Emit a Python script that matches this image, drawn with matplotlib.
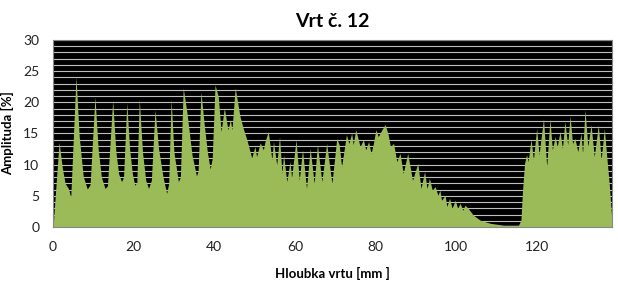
import numpy as np
import matplotlib.pyplot as plt

plt.rcParams['font.family'] = ['Lato', 'DejaVu Sans']

# depth [mm] and amplitude [%]
depth = [0.0, 1.5, 2.3, 3.0, 3.8, 4.4, 5.7, 6.5, 7.5, 8.5, 9.2, 10.4, 11.2, 12.0,
         12.9, 13.5, 14.8, 15.6, 16.3, 17.0, 17.5, 18.3, 19.0, 19.7, 20.3, 20.8,
         21.4, 22.2, 23.0, 23.7, 24.4, 25.3, 26.2, 27.3, 28.2, 28.7, 29.3, 30.0,
         31.1, 31.6, 32.3, 33.2, 34.5, 35.6, 36.0, 36.7, 37.5, 38.3, 39.0, 39.5,
         40.2, 41.0, 41.7, 42.5, 43.4, 44.0, 44.4, 45.2, 46.4, 47.2, 48.1, 49.3,
         50.1, 50.5, 51.4, 52.2, 52.6, 53.4, 54.3, 54.7, 55.5, 56.2, 56.8, 57.2,
         58.0, 58.8, 59.2, 60.3, 61.1, 61.9, 62.9, 63.8, 64.8, 65.6, 66.7, 67.9,
         69.2, 70.4, 71.0, 71.6, 72.8, 73.4, 74.1, 74.5, 75.1, 76.2, 77.0, 77.6,
         78.3, 78.9, 79.5, 80.1, 80.7, 81.6, 82.4, 83.1, 83.7, 84.5, 85.3, 86.1,
         86.9, 88.0, 89.2, 90.5, 91.3, 92.2, 92.8, 93.4, 94.1, 94.8, 95.5, 96.0,
         96.4, 97.3, 97.7, 98.4, 99.0, 99.8, 100.4, 101.0, 101.7, 102.2, 103.0,
         104.3, 106.0, 108.5, 111.8, 115.5, 116.1, 116.5, 117.0, 117.5, 117.9,
         118.6, 119.2, 120.0, 120.6, 121.7, 122.5, 123.3, 123.9, 124.6, 125.1,
         125.8, 126.4, 127.0, 127.7, 128.3, 128.9, 129.5, 130.2, 131.0, 131.4,
         132.0, 132.7, 133.5, 134.3, 135.3, 136.0, 136.8, 137.4, 138.0, 138.6,
         138.7]
amplitude = [0.0, 13.6, 9.5, 7.0, 6.2, 4.8, 24.1, 14.5, 8.1, 6.1, 6.8, 20.9, 12.5, 8.0,
             6.2, 6.6, 20.3, 12.0, 8.5, 7.3, 8.0, 19.9, 12.5, 8.5, 6.7, 7.2,
             20.5, 12.0, 7.5, 6.2, 7.5, 18.8, 12.5, 8.0, 5.4, 7.0, 20.5, 12.0,
             7.3, 8.0, 22.3, 18.5, 11.5, 8.2, 9.0, 21.7, 16.5, 12.0, 9.3, 11.0,
             22.8, 20.9, 15.3, 19.1, 15.6, 17.2, 15.6, 22.3, 17.7, 15.8, 14.0, 11.1,
             12.9, 11.3, 13.5, 12.4, 13.7, 15.3, 10.8, 13.7, 10.0, 14.5, 8.6, 11.6,
             7.3, 10.5, 7.9, 14.0, 7.5, 12.4, 6.2, 12.6, 7.0, 13.2, 7.3, 13.4,
             7.0, 14.2, 13.2, 9.7, 14.8, 13.4, 15.0, 13.2, 15.6, 12.9, 14.0, 12.4,
             13.7, 11.8, 13.4, 15.6, 14.5, 15.6, 16.4, 15.0, 12.9, 13.4, 10.5, 11.8,
             8.6, 11.8, 7.5, 10.2, 6.2, 8.9, 6.2, 7.8, 5.9, 6.5, 5.1, 5.9,
             4.3, 5.1, 3.3, 4.6, 3.0, 4.3, 3.0, 3.8, 2.7, 3.5, 3.0,
             1.9, 1.1, 0.6, 0.3, 0.3, 1.1, 5.9, 10.2, 11.6, 10.5,
             14.1, 10.8, 15.8, 11.6, 17.4, 9.7, 17.3, 12.4, 14.5, 12.9,
             15.3, 12.6, 16.9, 13.2, 17.8, 13.4, 14.2, 12.1, 15.0, 11.8,
             18.8, 12.9, 16.4, 11.3, 16.4, 10.8, 15.8, 11.3, 7.0, 1.7,
             0.0]

fig = plt.figure(figsize=(6.18, 2.81), dpi=100)
ax = fig.add_axes([0.0858, 0.192, 0.9045, 0.666])
ax.set_facecolor('black')

for v in range(1, 31):
    ax.axhline(v, color='#bfbfbf', lw=0.8, zorder=1)

ax.fill_between(depth, amplitude, 0, color='#9bbb59', lw=0, zorder=2)

ax.set_xlim(0, 138.7)
ax.set_ylim(0, 30)
ax.set_xticks(np.arange(0, 121, 20))
ax.set_yticks(np.arange(0, 31, 5))
ax.tick_params(length=0, labelsize=10, pad=10, labelcolor='#222222')
for s in ax.spines.values():
    s.set_color('#868686')

ax.set_title('Vrt č. 12', fontsize=14, fontweight='bold', pad=9)
ax.set_xlabel('Hloubka vrtu [mm ]', fontsize=9.5, fontweight='bold', labelpad=10)
ax.set_ylabel('Amplituda [%]', fontsize=9.5, fontweight='bold', labelpad=6)

fig.savefig('out.png')
